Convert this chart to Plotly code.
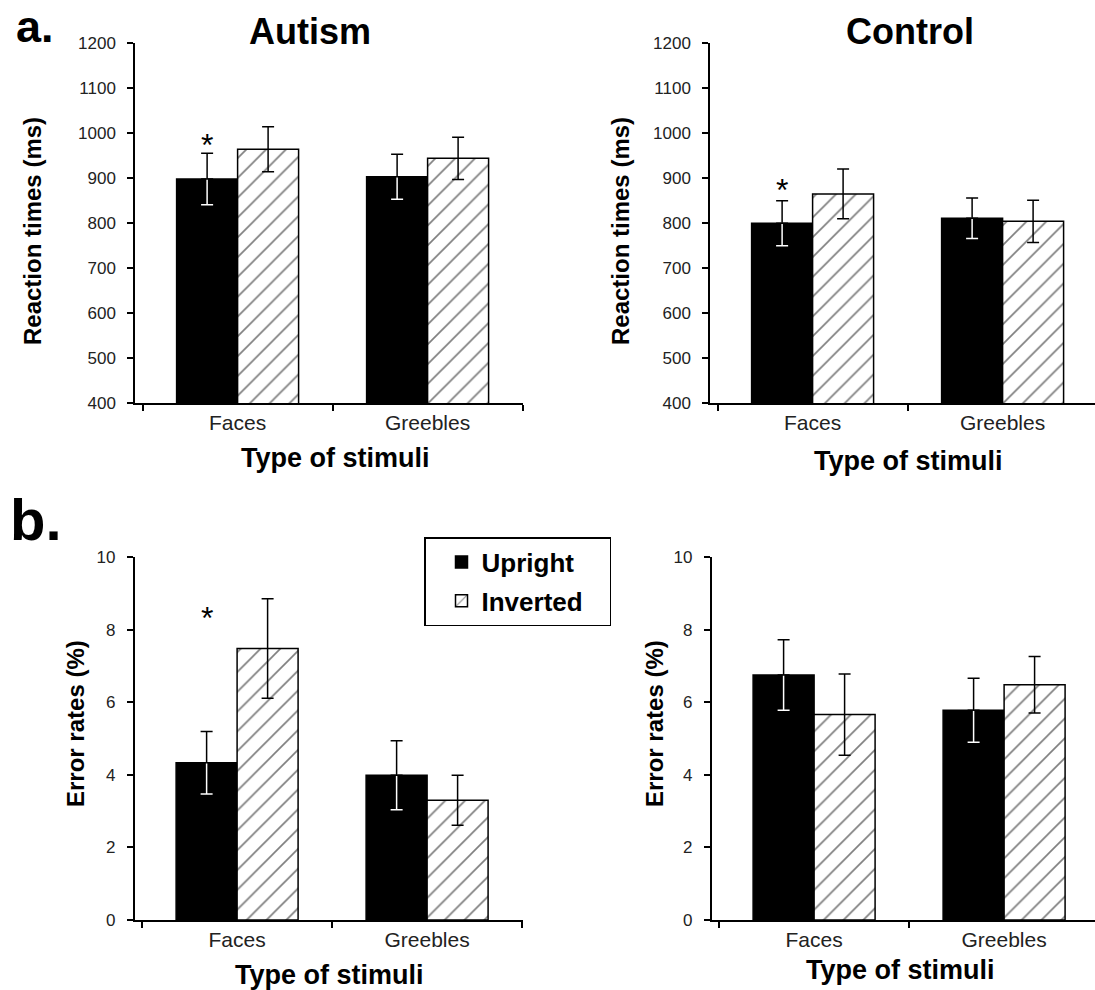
import plotly.graph_objects as go

# ---------------- data ----------------
categories = ["Faces", "Greebles"]

rt_autism_upright = [898, 903]
rt_autism_upright_err = [57, 50]
rt_autism_inverted = [964, 944]
rt_autism_inverted_err = [50, 47]

rt_control_upright = [800, 811]
rt_control_upright_err = [50, 45]
rt_control_inverted = [865, 804]
rt_control_inverted_err = [55, 47]

er_autism_upright = [4.33, 3.99]
er_autism_upright_err = [0.86, 0.95]
er_autism_inverted = [7.48, 3.30]
er_autism_inverted_err = [1.37, 0.69]

er_control_upright = [6.75, 5.78]
er_control_upright_err = [0.97, 0.88]
er_control_inverted = [5.66, 6.48]
er_control_inverted_err = [1.12, 0.78]

rt_ticks = [400, 500, 600, 700, 800, 900, 1000, 1100, 1200]
er_ticks = [0, 2, 4, 6, 8, 10]

# significance markers (panel axis suffix, y value)
stars = [("", 990), ("2", 890), ("3", 8.5)]

# ---------------- layout helpers ----------------
W, H = 1095, 990
def PX(x):
    return x / W
def PY(y):
    return 1 - y / H

FONT = "Liberation Sans"
BARGAP = 0.358
LEFT_PAD = 0.54          # category-units between y axis and first category centre
CAT_PX = 190.0           # px per category

fig = go.Figure()

def add_panel(sfx, up, up_err, inv, inv_err, legend):
    xa = "x" + sfx
    ya = "y" + sfx
    fig.add_trace(go.Bar(
        x=categories, y=up, xaxis=xa, yaxis=ya, offsetgroup="u",
        name="Upright\u00a0\u00a0\u00a0\u00a0", legendgroup="u", showlegend=legend,
        marker=dict(color="black", line=dict(color="black", width=1.5)),
        error_y=dict(type="data", array=up_err, color="white", thickness=1.5, width=6),
        hoverinfo="skip"))
    fig.add_trace(go.Bar(
        x=categories, y=up, xaxis=xa, yaxis=ya, offsetgroup="u",
        showlegend=False,
        marker=dict(color="rgba(0,0,0,0)", line=dict(width=0)),
        error_y=dict(type="data", symmetric=False, array=up_err,
                     arrayminus=[0] * len(up_err), color="black", thickness=1.5, width=6),
        hoverinfo="skip"))
    fig.add_trace(go.Bar(
        x=categories, y=inv, xaxis=xa, yaxis=ya, offsetgroup="i",
        name="Inverted\u00a0\u00a0\u00a0", legendgroup="i", showlegend=legend,
        marker=dict(color="white", line=dict(color="black", width=1.5),
                    pattern=dict(shape="/", fgcolor="black", bgcolor="white",
                                 size=14, solidity=0.12)),
        error_y=dict(type="data", array=inv_err, color="black", thickness=1.5, width=6),
        hoverinfo="skip"))

add_panel("", rt_autism_upright, rt_autism_upright_err, rt_autism_inverted, rt_autism_inverted_err, True)
add_panel("2", rt_control_upright, rt_control_upright_err, rt_control_inverted, rt_control_inverted_err, False)
add_panel("3", er_autism_upright, er_autism_upright_err, er_autism_inverted, er_autism_inverted_err, False)
add_panel("4", er_control_upright, er_control_upright_err, er_control_inverted, er_control_inverted_err, False)

def xaxis(x0, x1, anchor):
    rng = [-LEFT_PAD, -LEFT_PAD + (x1 - x0) / CAT_PX]
    return dict(type="category", domain=[PX(x0), PX(x1)], range=rng, anchor=anchor,
                showline=True, linecolor="black", linewidth=1.5,
                ticks="outside", tickson="boundaries", ticklen=6, tickwidth=1.5,
                tickcolor="black", showgrid=False, zeroline=False,
                tickfont=dict(family=FONT, size=21, color="#222"),
                fixedrange=True)

def yaxis(domain, rng, ticks, anchor):
    return dict(domain=domain, range=rng, anchor=anchor, tickvals=ticks,
                showline=True, linecolor="black", linewidth=1.5,
                ticks="outside", ticklen=6, tickwidth=1.5, tickcolor="black",
                showgrid=False, zeroline=False, ticklabelstandoff=8,
                tickfont=dict(family=FONT, size=17, color="#222"),
                fixedrange=True)

top_dom = [PY(403.3), PY(43)]
bot_dom = [PY(920), PY(557)]

annotations = []
def ann(text, x, y, size, bold=True, angle=0, yanchor="middle"):
    annotations.append(dict(
        text=("<b>%s</b>" % text) if bold else text,
        x=PX(x), y=PY(y), xref="paper", yref="paper", borderpad=0,
        xanchor="center", yanchor=yanchor, showarrow=False, textangle=angle,
        font=dict(family=FONT, size=size, color="black")))

ann("a.", 35, 0, 45, yanchor="top")
ann("b.", 36, 519, 58)
ann("Autism", 310, 32, 36)
ann("Control", 910, 32, 36)
ann("Reaction times (ms)", 32, 231, 24, angle=-90)
ann("Reaction times (ms)", 620, 231, 24, angle=-90)
ann("Error rates (%)", 75, 724, 24, angle=-90)
ann("Error rates (%)", 654, 724, 24, angle=-90)
ann("Type of stimuli", 335, 458, 27)
ann("Type of stimuli", 908, 461, 27)
ann("Type of stimuli", 329, 975, 27)
ann("Type of stimuli", 900, 970, 27)

star_x = -(1 - BARGAP) / 4
for sfx, yv in stars:
    annotations.append(dict(
        text="*", x=star_x, y=yv, xref="x" + sfx, yref="y" + sfx,
        xanchor="center", yanchor="middle", showarrow=False, yshift=-7,
        font=dict(family=FONT, size=32, color="black")))

fig.update_layout(
    width=W, height=H, margin=dict(l=0, r=0, t=0, b=0, autoexpand=False),
    paper_bgcolor="white", plot_bgcolor="white",
    font=dict(family=FONT, color="black"),
    barmode="group", bargap=BARGAP, bargroupgap=0,
    xaxis=xaxis(135, 523, "y"),
    yaxis=yaxis(top_dom, [400, 1200], rt_ticks, "x"),
    xaxis2=xaxis(710, W, "y2"),
    yaxis2=yaxis(top_dom, [400, 1200], rt_ticks, "x2"),
    xaxis3=xaxis(134.5, 523, "y3"),
    yaxis3=yaxis(bot_dom, [0, 10], er_ticks, "x3"),
    xaxis4=xaxis(711.5, W, "y4"),
    yaxis4=yaxis(bot_dom, [0, 10], er_ticks, "x4"),
    legend=dict(x=PX(424), y=PY(537), xanchor="left", yanchor="top",
                bordercolor="black", borderwidth=1.5, bgcolor="white",
                indentation=16,
                font=dict(family=FONT, size=26, color="black", weight="bold"),
                tracegroupgap=2),
    annotations=annotations,
    showlegend=True,
)

fig.write_html("out.html", config={"displayModeBar": False},
               post_script="document.body.style.margin='0';document.body.style.padding='0';")
